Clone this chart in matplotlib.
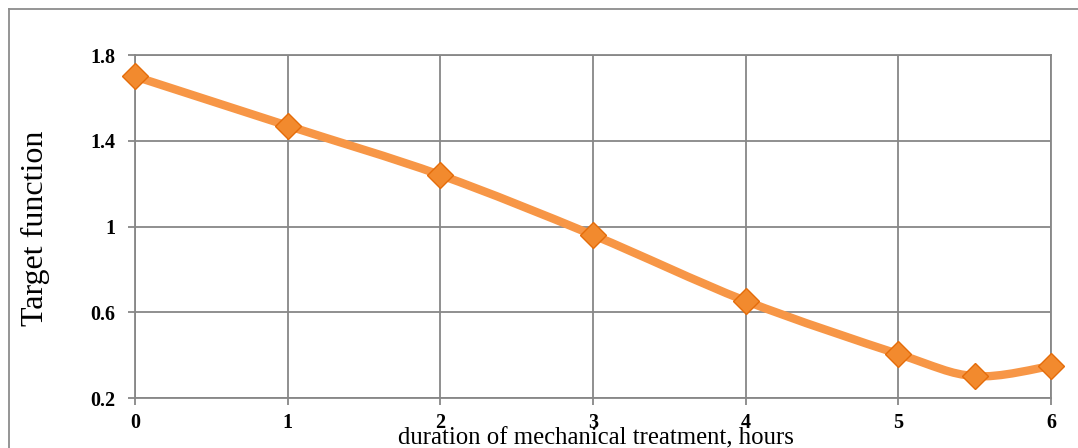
import matplotlib.pyplot as plt
import numpy as np
from matplotlib.path import Path
from matplotlib.patches import PathPatch
from matplotlib.lines import Line2D

# Data
hours = [0, 1, 2, 3, 4, 5, 5.5, 6]
target = [1.70, 1.47, 1.24, 0.96, 0.653, 0.405, 0.302, 0.349]

x_ticks = [0, 1, 2, 3, 4, 5, 6]
y_ticks = [0.2, 0.6, 1.0, 1.4, 1.8]
y_tick_labels = ['0.2', '0.6', '1', '1.4', '1.8']

line_color = '#F79646'
marker_face = '#F28A2E'
marker_edge = '#E46C0A'
grid_color = '#878787'

plt.rcParams['font.family'] = ['Liberation Serif', 'DejaVu Serif']

fig = plt.figure(figsize=(10.78, 4.48), dpi=100)
ax = fig.add_axes([135 / 1078, 1 - 398 / 448, (1051 - 135) / 1078, (398 - 55) / 448])


# Excel-like smoothed line: cubic Bezier through the points (Catmull-Rom controls)
def smooth_path(xs, ys):
    pts = np.column_stack([xs, ys]).astype(float)
    n = len(pts)
    verts = [pts[0]]
    codes = [Path.MOVETO]
    for i in range(n - 1):
        p0 = pts[i - 1] if i > 0 else pts[i]
        p1 = pts[i]
        p2 = pts[i + 1]
        p3 = pts[i + 2] if i + 2 < n else pts[i + 1]
        c1 = p1 + (p2 - p0) / 6
        c2 = p2 - (p3 - p1) / 6
        verts += [c1, c2, p2]
        codes += [Path.CURVE4] * 3
    return Path(verts, codes)


ax.add_patch(PathPatch(smooth_path(hours, target), facecolor='none',
                       edgecolor=line_color, lw=6, capstyle='round',
                       joinstyle='round', zorder=3, clip_on=False))
ax.plot(hours, target, linestyle='none', marker='D', markersize=13,
        markerfacecolor=marker_face, markeredgecolor=marker_edge,
        markeredgewidth=1, zorder=4, clip_on=False)

ax.set_xlim(0, 6)
ax.set_ylim(0.2, 1.8)
ax.set_xticks(x_ticks)
ax.set_yticks(y_ticks)
ax.set_yticklabels(y_tick_labels)
ax.grid(True, color=grid_color, lw=1.3)
ax.set_axisbelow(True)
for s in ax.spines.values():
    s.set_color(grid_color)
    s.set_linewidth(1.3)
ax.tick_params(axis='both', colors=grid_color, length=5, width=1.3,
               labelcolor='black', labelsize=14.5)
ax.tick_params(axis='y', pad=9)
ax.tick_params(axis='x', pad=6)
for lbl in ax.get_xticklabels() + ax.get_yticklabels():
    lbl.set_fontweight('bold')

fig.text(35 / 1078, 1 - 228 / 448, 'Target function', rotation=90,
         ha='center', va='center', fontsize=23)
fig.text(596 / 1078, 1 - 438 / 448, 'duration of mechanical treatment, hours',
         ha='center', va='center', fontsize=17.8)

# outer chart frame
fig.add_artist(Line2D([9 / 1078, 9 / 1078], [0, 1 - 9 / 448], color='#8C8C8C', lw=1.3))
fig.add_artist(Line2D([9 / 1078, 1], [1 - 9 / 448, 1 - 9 / 448], color='#8C8C8C', lw=1.3))

fig.savefig('out.png', dpi=100)
